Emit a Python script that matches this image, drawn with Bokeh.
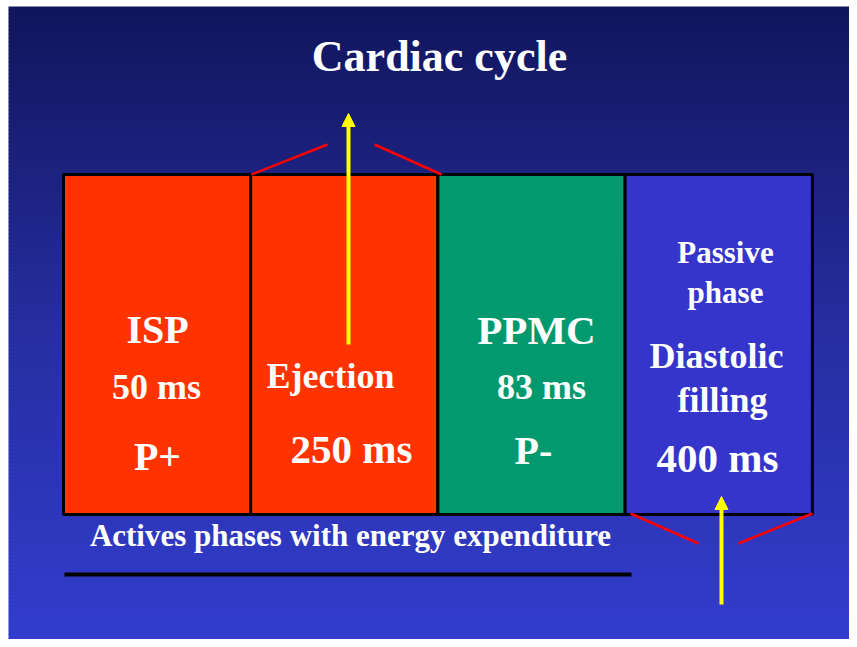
import numpy as np
from bokeh.plotting import figure
from bokeh.models import Range1d, Arrow, NormalHead
from bokeh.core.properties import value
from bokeh.embed import file_html
from bokeh.resources import INLINE

# ---- data ----
phases = ["ISP", "Ejection", "PPMC", "Diastolic filling"]
durations_ms = [50, 250, 83, 400]
pressure_sign = ["P+", "", "P-", ""]
phase_colors = ["#ff3300", "#ff3300", "#03996f", "#3535cc"]
title = "Cardiac cycle"
footer = "Actives phases with energy expenditure"
passive_label = ["Passive", "phase"]

W, H = 849, 639
p = figure(width=W, height=H, output_backend="svg", toolbar_location=None,
           x_range=Range1d(0, W), y_range=Range1d(H, 0),
           min_border=0, x_axis_type=None, y_axis_type=None)
p.outline_line_color = None
p.grid.visible = False
p.background_fill_color = "white"
p.border_fill_color = "white"

# background gradient (styling)
stops_y = [6, 330, 647]
stops_c = [(17, 21, 92), (38, 46, 160), (51, 61, 206)]
edges = np.linspace(6, 646, 161)
cols = []
for a, b in zip(edges[:-1], edges[1:]):
    m = (a + b) / 2
    c = [int(round(np.interp(m, stops_y, [s[k] for s in stops_c]))) for k in range(3)]
    cols.append("#%02x%02x%02x" % tuple(c))
p.quad(left=8, right=W + 2, top=edges[:-1], bottom=edges[1:] + 0.6,
       fill_color=cols, line_color=None)

# boxes
x0, bw, ytop, ybot = 63, 187.2, 174, 514
n = len(phases)
lefts = [x0 + i * bw for i in range(n)]
rights = [x0 + (i + 1) * bw for i in range(n)]
p.quad(left=lefts, right=rights, top=ytop, bottom=ybot,
       fill_color=phase_colors, line_color="black", line_width=3)

# texts
font = value("Liberation Serif")
def txt(x, y, s, size):
    y = y - 0.35 * size   # baseline correction
    p.text(x=[x], y=[y], text=[s], text_font=font, text_font_style="bold",
           text_font_size=f"{size}px", text_color="white",
           text_align="center", text_baseline="alphabetic")

txt(439, 71, title, 44)
# box 1
txt(157, 343, phases[0], 40)
txt(156, 399, f"{durations_ms[0]} ms", 36)
txt(157, 470, pressure_sign[0], 40)
# box 2
txt(330, 388, phases[1], 36)
txt(351, 463, f"{durations_ms[1]} ms", 41)
# box 3
txt(536, 344, phases[2], 41)
txt(541, 399, f"{durations_ms[2]} ms", 36)
txt(533, 464, pressure_sign[2], 40)
# box 4
txt(725, 263, passive_label[0], 31)
txt(725, 303, passive_label[1], 31)
d1, d2 = phases[3].split(" ")
txt(716, 368, d1, 36)
txt(722, 412, d2, 36)
txt(717, 472, f"{durations_ms[3]} ms", 41)

# footer
txt(350, 546, footer, 31)
p.quad(left=64, right=631, top=572, bottom=576, fill_color="black", line_color=None)

# red brackets
p.segment(x0=[251, 441, 630, 812], y0=[174, 174, 513, 513],
          x1=[327, 374, 698, 738], y1=[144, 144, 543, 543],
          line_color="#ff0000", line_width=2.5)

# yellow arrows
for xa, yb, yt in [(348, 344, 113), (721, 604, 496)]:
    p.add_layout(Arrow(end=NormalHead(size=13, fill_color="#ffff00", line_color="#ffff00"),
                       x_start=xa, y_start=yb, x_end=xa, y_end=yt,
                       line_color="#ffff00", line_width=4))

open("out.html", "w").write(file_html(p, INLINE))
